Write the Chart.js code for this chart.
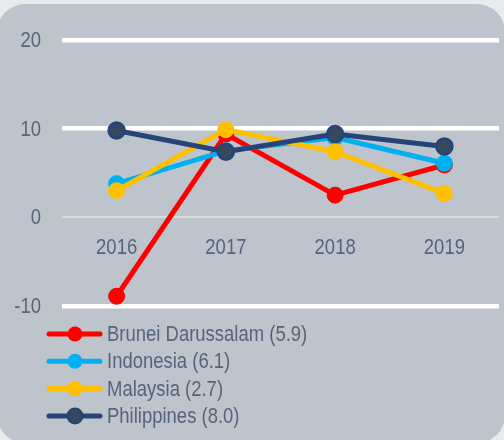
<!DOCTYPE html>
<html>
<head>
<meta charset="utf-8">
<script src="https://cdn.jsdelivr.net/npm/chart.js@4"></script>
<style>
  html, body { margin: 0; padding: 0; background: #e8ecef; }
  #wrap { width: 504px; height: 440px; }
</style>
</head>
<body>
<div id="wrap"><canvas id="growth-chart" width="504" height="440"></canvas></div>
<script>
/* Data */
let years = ['2016', '2017', '2018', '2019']
let countries = ['Brunei Darussalam', 'Indonesia', 'Malaysia', 'Philippines']
let brunei = [-8.9, 9.4, 2.5, 5.9]
let indonesia = [3.8, 7.5, 9.0, 6.1]
let malaysia = [3.0, 9.9, 7.4, 2.7]
let philippines = [9.8, 7.4, 9.4, 8.0]
let yTicks = [-10, 0, 10, 20]

let lineColors = ['#ff0000', '#00b0f0', '#ffc000', '#264478']
let pointFills = ['#ff0000', '#00b0f0', '#ffc000', '#35495e']
let textColor = '#56647c'
let fontFamily = "'Liberation Sans', Arial, sans-serif"
let narrow = 0.84   // no narrow face installed, so squeeze the regular one

let allSeries = [brunei, indonesia, malaysia, philippines]

let datasets = countries.map(function(name, i) {
    return {
        label: name,
        data: allSeries[i],
        borderColor: lineColors[i],
        backgroundColor: pointFills[i],
        borderWidth: 5,
        pointRadius: 8,
        pointBorderWidth: i == 3 ? 2.5 : 1,
        pointBorderColor: lineColors[i],
        pointBackgroundColor: pointFills[i],
        order: 4 - i   // philippines on top, brunei at the bottom
    }
})

function narrowText(c, text, x, y, align) {
    c.save()
    c.translate(x, y)
    c.scale(narrow, 1)
    c.textAlign = align
    c.fillText(text, 0, 0)
    c.restore()
}

// grey rounded panel behind everything
let panelPlugin = {
    id: 'panel',
    beforeDraw(chart) {
        let c = chart.ctx
        c.save()
        c.fillStyle = '#bdc4cb'
        c.beginPath()
        c.roundRect(-3, 4, 508, 439, 28)
        c.fill()
        c.restore()
    }
}

// tick labels, placed with the chart's own scales
let tickLabelPlugin = {
    id: 'tickLabels',
    afterDraw(chart) {
        let c = chart.ctx
        let xs = chart.scales.x
        let ys = chart.scales.y
        c.save()
        c.font = '22px ' + fontFamily
        c.fillStyle = textColor
        c.textBaseline = 'middle'
        yTicks.forEach(function(v) {
            narrowText(c, String(v), 41, ys.getPixelForValue(v) + 1, 'right')
        })
        let zero = ys.getPixelForValue(0)
        years.forEach(function(yr, i) {
            narrowText(c, yr, xs.getPixelForValue(i), zero + 31, 'center')
        })
        c.restore()
    }
}

// legend: short line with a marker, one row per country
let legendPlugin = {
    id: 'lineLegend',
    afterDraw(chart) {
        let c = chart.ctx
        c.save()
        c.font = '22px ' + fontFamily
        c.textBaseline = 'middle'
        countries.forEach(function(name, i) {
            let y = 334 + i * 27.3
            c.strokeStyle = lineColors[i]
            c.lineWidth = 5
            c.lineCap = 'round'
            c.beginPath()
            c.moveTo(49, y)
            c.lineTo(100, y)
            c.stroke()
            c.beginPath()
            c.arc(75, y, 7.5, 0, Math.PI * 2)
            c.fillStyle = pointFills[i]
            c.fill()
            if (i == 3) {
                c.lineWidth = 2
                c.stroke()
            }
            let last = allSeries[i][allSeries[i].length - 1]
            c.fillStyle = textColor
            narrowText(c, name + ' (' + last.toFixed(1) + ')', 107, y + 1, 'left')
        })
        c.restore()
    }
}

let ctx = document.querySelector('#growth-chart').getContext('2d')

let growthChart = new Chart(ctx, {
    type: 'line',
    data: {
        labels: years,
        datasets: datasets
    },
    options: {
        responsive: false,
        animation: false,
        events: [],
        layout: { autoPadding: false, padding: { top: 40, right: 5, bottom: 134, left: 0 } },
        plugins: {
            legend: { display: false },
            tooltip: { enabled: false }
        },
        scales: {
            x: {
                position: { y: 0 },
                offset: true,
                grid: { display: false },
                border: { display: false },
                ticks: { display: false }
            },
            y: {
                min: -10,
                max: 20,
                afterBuildTicks: function(scale) {
                    scale.ticks = yTicks.map(function(v) { return { value: v } })
                },
                afterFit: function(scale) { scale.width = 62 },
                border: { display: false },
                grid: {
                    drawTicks: false,
                    color: function(c) { return c.tick.value == 0 ? '#d9d9d9' : '#ffffff' },
                    lineWidth: function(c) { return c.tick.value == 0 ? 2 : 4.5 }
                },
                ticks: { display: false }
            }
        }
    },
    plugins: [panelPlugin, tickLabelPlugin, legendPlugin]
})
</script>
</body>
</html>
